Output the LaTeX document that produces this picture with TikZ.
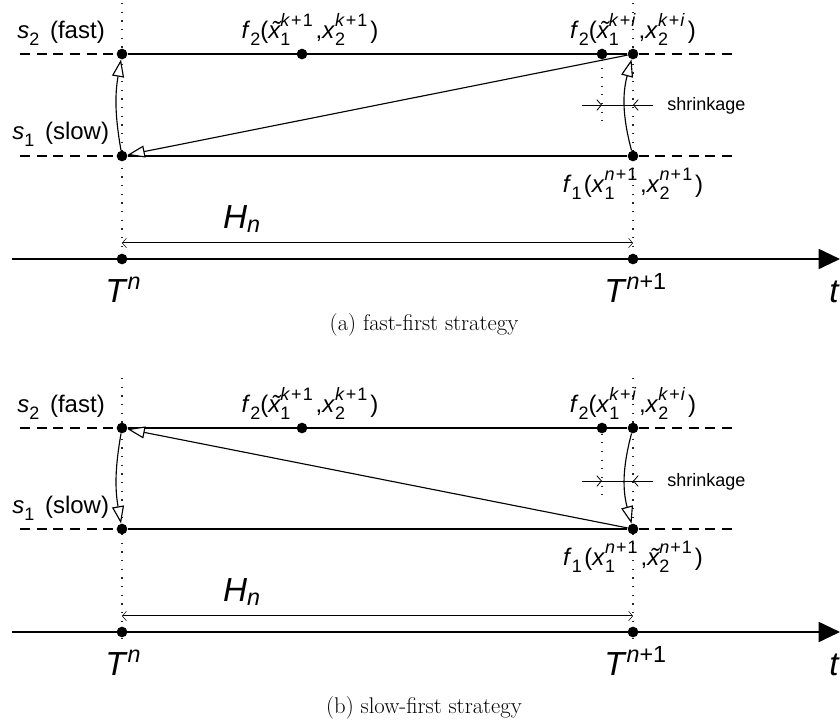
\documentclass[tikz,border=0pt]{standalone}
\usepackage{fontspec}
\newfontfamily\hv{Liberation Sans}
\usetikzlibrary{arrows.meta}
\newcommand\scs{\fontsize{13.5}{14}\selectfont}
\newcommand\sbs[1]{\raisebox{-0.3em}{\scs #1}}
\newcommand\sps[2]{\rlap{\sbs{#1}}\raisebox{0.5em}{\scs #2}\hspace{0.12em}}
\newcommand\pl{\hspace{0.06em}+\hspace{0.06em}}
\newcommand\tld[1]{\ooalign{#1\cr\hidewidth\kern.12em\char"02DC\hidewidth\cr}}
\tikzset{
  dot/.style={circle, fill=black, inner sep=0pt, minimum size=8pt},
  guide/.style={line width=0.9pt, dash pattern=on 0.9pt off 5.6pt, black!85},
  dashln/.style={line width=0.9pt, dash pattern=on 7.5pt off 5pt},
  sline/.style={line width=1.05pt},
  oarrow/.style={line width=0.85pt, -{Triangle[open,length=13pt,width=9pt,fill=white]}},
  barb/.style={line width=0.6pt, -{Straight Barb[length=3.5pt,width=8pt]}},
  hnarrow/.style={double, double distance=0.7pt, line width=0.4pt,
     {Straight Barb[length=3pt,width=7pt]}-{Straight Barb[length=3pt,width=7pt]}},
  axis/.style={line width=1.4pt, -{Triangle[length=16pt,width=15pt]}},
  lbl/.style={font=\hv\fontsize{18}{21}\selectfont, inner sep=0pt},
  big/.style={font=\hv\fontsize{25}{30}\selectfont, inner sep=0pt},
  small/.style={font=\hv\fontsize{13.5}{15}\selectfont, inner sep=0pt},
  capstyle/.style={font=\fontsize{17}{20}\selectfont, inner sep=0pt},
}
\begin{document}
\begin{tikzpicture}[x=0.75pt, y=-0.75pt]
\useasboundingbox (0,0) rectangle (840,719);

% ---------------- panel (a) ----------------
\begin{scope}
  \coordinate (a-gl0) at (122,3);  \coordinate (a-gl1) at (122,270);
  \coordinate (a-gr0) at (633,3);  \coordinate (a-gr1) at (633,270);
  \coordinate (a-gk1) at (602,125);
  \draw[guide] (a-gl0) -- (a-gl1);
  \draw[guide] (a-gr0) -- (a-gr1);

  \node[dot] (a-d2l) at (122,54) {};
  \node[dot] (a-d2m) at (302,54) {};
  \node[dot] (a-d2k) at (602,54) {};
  \node[dot] (a-d2r) at (633,54) {};
  \node[dot] (a-d1l) at (122,156) {};
  \node[dot] (a-d1r) at (633,156) {};
  \draw[guide] (a-d2k) -- (a-gk1);

  \coordinate (a-e2l) at (20,54);  \coordinate (a-e2r) at (735,54);
  \coordinate (a-e1l) at (20,156); \coordinate (a-e1r) at (735,156);
  \draw[sline] (a-d2l) -- (a-d2r);
  \draw[sline] (a-d1l) -- (a-d1r);
  \draw[dashln] (a-e2l) -- (a-d2l);
  \draw[dashln] (a-d2r) -- (a-e2r);
  \draw[dashln] (a-e1l) -- (a-d1l);
  \draw[dashln] (a-d1r) -- (a-e1r);

  \draw[oarrow] (a-d2r) -- (a-d1l);
  \draw[oarrow] (a-d1l) to[bend left=10] (a-d2l);
  \draw[oarrow] (a-d1r) to[bend left=15] (a-d2r);

  \coordinate (a-sh1) at (582,105); \coordinate (a-sh2) at (653,105);
  \coordinate (a-sk1) at (602,105); \coordinate (a-sk2) at (633,105);
  \draw[line width=0.6pt] (a-sh1) -- (a-sh2);
  \draw[barb] (a-sh1) -- (a-sk1);
  \draw[barb] (a-sh2) -- (a-sk2);
  \node[small, anchor=west] (a-shr) at (667,106) {shrinkage};

  \node[lbl, anchor=base west] (a-s2) at (17,38) {\textit{s}\sbs{2}\hspace{0.45em}(fast)};
  \node[lbl, anchor=base west] (a-s1) at (12,139) {\textit{s}\sbs{1}\hspace{0.45em}(slow)};
  \node[lbl, anchor=base] (a-f1) at (310,38) {\textit{f}\sbs{2}(\textit{\tld{x}}\sps{1}{\textit{k}\pl1},\textit{x}\sps{2}{\textit{k}\pl1})};
  \node[lbl, anchor=base] (a-f2) at (633,38) {\textit{f}\sbs{2}(\textit{\tld{x}}\sps{1}{\textit{k}\pl\textit{i}},\textit{x}\sps{2}{\textit{k}\pl\textit{i}})};
  \node[lbl, anchor=base] (a-f3) at (633,192) {\textit{f}\sbs{1}\hspace{0.1em}(\textit{x}\sps{1}{\textit{n}\pl1},\textit{x}\sps{2}{\textit{n}\pl1})};

  \coordinate (a-h0) at (122,243); \coordinate (a-h1) at (633,243);
  \draw[hnarrow] (a-h0) -- (a-h1);
  \node[big, anchor=base] (a-hn) at (242,228) {\textit{H}\textsubscript{\textit{n}}};

  \coordinate (a-ax0) at (12,259); \coordinate (a-ax1) at (840,259);
  \draw[axis] (a-ax0) -- (a-ax1);
  \node[dot] (a-tl) at (122,259) {};
  \node[dot] (a-tr) at (633,259) {};
  \node[big, anchor=base west] (a-Tn) at (105,302) {\textit{T}\textsuperscript{\textit{n}}};
  \node[big, anchor=base west] (a-Tn1) at (604,302) {\textit{T}\textsuperscript{\textit{n}+1}};
  \node[big, anchor=base west] (a-t) at (829,302) {\textit{t}};
\end{scope}
\node[capstyle, anchor=base] (a-cap) at (424,330) {(a) fast-first strategy};

% ---------------- panel (b) ----------------
\begin{scope}[shift={(0,373)}]
  \coordinate (b-gl0) at (122,5);  \coordinate (b-gl1) at (122,270);
  \coordinate (b-gr0) at (633,5);  \coordinate (b-gr1) at (633,270);
  \coordinate (b-gk1) at (602,124);
  \draw[guide] (b-gl0) -- (b-gl1);
  \draw[guide] (b-gr0) -- (b-gr1);

  \node[dot] (b-d2l) at (122,55) {};
  \node[dot] (b-d2m) at (302,55) {};
  \node[dot] (b-d2k) at (602,55) {};
  \node[dot] (b-d2r) at (633,55) {};
  \node[dot] (b-d1l) at (122,156) {};
  \node[dot] (b-d1r) at (633,156) {};
  \draw[guide] (b-d2k) -- (b-gk1);

  \coordinate (b-e2l) at (20,55);  \coordinate (b-e2r) at (735,55);
  \coordinate (b-e1l) at (20,156); \coordinate (b-e1r) at (735,156);
  \draw[sline] (b-d2l) -- (b-d2r);
  \draw[sline] (b-d1l) -- (b-d1r);
  \draw[dashln] (b-e2l) -- (b-d2l);
  \draw[dashln] (b-d2r) -- (b-e2r);
  \draw[dashln] (b-e1l) -- (b-d1l);
  \draw[dashln] (b-d1r) -- (b-e1r);

  \draw[oarrow] (b-d1r) -- (b-d2l);
  \draw[oarrow] (b-d2l) to[bend right=10] (b-d1l);
  \draw[oarrow] (b-d2r) to[bend right=15] (b-d1r);

  \coordinate (b-sh1) at (582,108); \coordinate (b-sh2) at (653,108);
  \coordinate (b-sk1) at (602,108); \coordinate (b-sk2) at (633,108);
  \draw[line width=0.6pt] (b-sh1) -- (b-sh2);
  \draw[barb] (b-sh1) -- (b-sk1);
  \draw[barb] (b-sh2) -- (b-sk2);
  \node[small, anchor=west] (b-shr) at (667,109) {shrinkage};

  \node[lbl, anchor=base west] (b-s2) at (17,39) {\textit{s}\sbs{2}\hspace{0.45em}(fast)};
  \node[lbl, anchor=base west] (b-s1) at (12,140) {\textit{s}\sbs{1}\hspace{0.45em}(slow)};
  \node[lbl, anchor=base] (b-f1) at (310,39) {\textit{f}\sbs{2}(\textit{\tld{x}}\sps{1}{\textit{k}\pl1},\textit{x}\sps{2}{\textit{k}\pl1})};
  \node[lbl, anchor=base] (b-f2) at (633,39) {\textit{f}\sbs{2}(\textit{x}\sps{1}{\textit{k}\pl\textit{i}},\textit{x}\sps{2}{\textit{k}\pl\textit{i}})};
  \node[lbl, anchor=base] (b-f3) at (633,192) {\textit{f}\sbs{1}\hspace{0.1em}(\textit{x}\sps{1}{\textit{n}\pl1},\textit{\tld{x}}\sps{2}{\textit{n}\pl1})};

  \coordinate (b-h0) at (122,243); \coordinate (b-h1) at (633,243);
  \draw[hnarrow] (b-h0) -- (b-h1);
  \node[big, anchor=base] (b-hn) at (242,228) {\textit{H}\textsubscript{\textit{n}}};

  \coordinate (b-ax0) at (12,259); \coordinate (b-ax1) at (840,259);
  \draw[axis] (b-ax0) -- (b-ax1);
  \node[dot] (b-tl) at (122,259) {};
  \node[dot] (b-tr) at (633,259) {};
  \node[big, anchor=base west] (b-Tn) at (105,302) {\textit{T}\textsuperscript{\textit{n}}};
  \node[big, anchor=base west] (b-Tn1) at (604,302) {\textit{T}\textsuperscript{\textit{n}+1}};
  \node[big, anchor=base west] (b-t) at (829,302) {\textit{t}};
\end{scope}
\node[capstyle, anchor=base] (b-cap) at (424,713) {(b) slow-first strategy};
\end{tikzpicture}
\end{document}
